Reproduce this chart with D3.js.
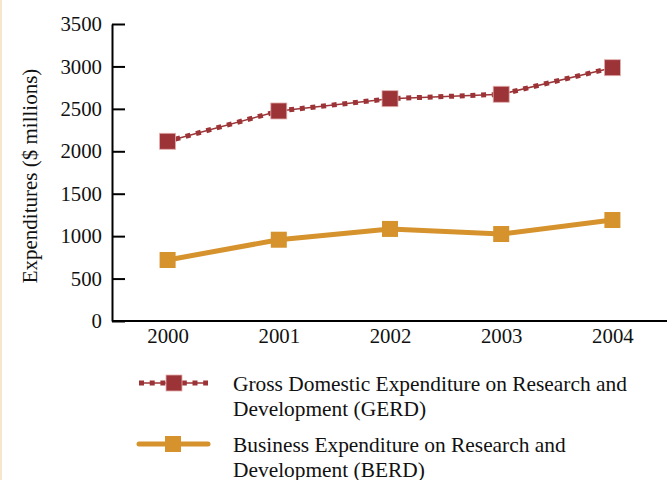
<!DOCTYPE html>
<html>
<head>
<meta charset="utf-8">
<script src="https://cdn.jsdelivr.net/npm/d3@7"></script>
<style>
  body { margin: 0; background: #fff; }
  text { font-family: "Liberation Serif", "Times New Roman", serif; fill: #111; }
</style>
</head>
<body>
<div id="chart"></div>
<script>
// data
const years = ["2000", "2001", "2002", "2003", "2004"];
const gerd = [2118, 2475, 2620, 2672, 2985];
const berd = [719, 958, 1085, 1025, 1190];
const yTicks = [0, 500, 1000, 1500, 2000, 2500, 3000, 3500];
const gerdLabel = ["Gross Domestic Expenditure on Research and", "Development (GERD)"];
const berdLabel = ["Business Expenditure on Research and", "Development (BERD)"];

const width = 667;
const height = 480;
const gerdColor = "#9c3437";
const berdColor = "#d6922c";

const svg = d3.select("#chart")
    .append("svg")
    .attr("width", width)
    .attr("height", height)
    .attr("viewBox", [0, 0, width, height]);

// thin beige edge on the left
svg.append("rect")
    .attr("x", 0).attr("y", 0)
    .attr("width", 2).attr("height", height)
    .attr("fill", "#f5e6cc");

const x = d3.scalePoint()
    .domain(years)
    .range([112, 668])
    .padding(0.5);

const y = d3.scaleLinear()
    .domain([0, 3500])
    .range([321, 24]);

// y axis
const yAxis = svg.append("g")
    .attr("transform", "translate(112,0)")
    .call(d3.axisLeft(y)
        .tickValues(yTicks)
        .tickSizeInner(-13)
        .tickSizeOuter(0)
        .tickPadding(10)
        .tickFormat(d3.format("d")));
yAxis.select(".domain").attr("stroke", "#000").attr("stroke-width", 2);
yAxis.selectAll(".tick line").attr("stroke", "#000").attr("stroke-width", 2);
yAxis.selectAll(".tick text")
    .attr("font-size", "20.8px")
    .attr("font-family", "Liberation Serif, serif")
    .attr("fill", "#111");

// x axis
const xAxis = svg.append("g")
    .attr("transform", "translate(0,321)")
    .call(d3.axisBottom(x).tickSize(0).tickPadding(7));
xAxis.select(".domain")
    .attr("d", "M112,0H667")
    .attr("stroke", "#000").attr("stroke-width", 2);
xAxis.selectAll(".tick text")
    .attr("font-size", "20.8px")
    .attr("font-family", "Liberation Serif, serif")
    .attr("fill", "#111");

// y label
svg.append("text")
    .attr("transform", "translate(37,176) rotate(-90)")
    .attr("text-anchor", "middle")
    .attr("font-size", "21px")
    .text("Expenditures ($ millions)");

const line = d3.line()
    .x((d, i) => x(years[i]))
    .y(d => y(d));

// GERD: thin line + small square dashes
svg.append("path")
    .datum(gerd)
    .attr("d", line)
    .attr("fill", "none")
    .attr("stroke", gerdColor)
    .attr("stroke-width", 1.5);
svg.append("path")
    .datum(gerd)
    .attr("d", line)
    .attr("fill", "none")
    .attr("stroke", gerdColor)
    .attr("stroke-width", 5)
    .attr("stroke-dasharray", "5,5.7")
    .attr("stroke-dashoffset", -8);

// BERD: thick solid line
svg.append("path")
    .datum(berd)
    .attr("d", line)
    .attr("fill", "none")
    .attr("stroke", berdColor)
    .attr("stroke-width", 5);

svg.selectAll(".gerdPt")
    .data(gerd)
    .enter()
    .append("rect")
    .attr("class", "gerdPt")
    .attr("x", (d, i) => x(years[i]) - 8)
    .attr("y", d => y(d) - 8)
    .attr("width", 16).attr("height", 16)
    .attr("fill", gerdColor)
    .attr("stroke", "#e3aeae")
    .attr("stroke-width", 0.8);

svg.selectAll(".berdPt")
    .data(berd)
    .enter()
    .append("rect")
    .attr("class", "berdPt")
    .attr("x", (d, i) => x(years[i]) - 8)
    .attr("y", d => y(d) - 8)
    .attr("width", 16).attr("height", 16)
    .attr("fill", berdColor);

// legend
const lg = svg.append("g");
lg.append("line")
    .attr("x1", 139).attr("x2", 208)
    .attr("y1", 383).attr("y2", 383)
    .attr("stroke", gerdColor).attr("stroke-width", 1.5);
lg.append("line")
    .attr("x1", 139).attr("x2", 208)
    .attr("y1", 383).attr("y2", 383)
    .attr("stroke", gerdColor).attr("stroke-width", 5)
    .attr("stroke-dasharray", "5,5.7");
lg.append("rect")
    .attr("x", 166).attr("y", 375)
    .attr("width", 16).attr("height", 16)
    .attr("fill", gerdColor)
    .attr("stroke", "#e3aeae").attr("stroke-width", 0.8);

lg.append("line")
    .attr("x1", 139).attr("x2", 208)
    .attr("y1", 444).attr("y2", 444)
    .attr("stroke", berdColor).attr("stroke-width", 5)
    .attr("stroke-linecap", "round");
lg.append("rect")
    .attr("x", 165).attr("y", 436)
    .attr("width", 16).attr("height", 16)
    .attr("fill", berdColor);

[[gerdLabel, 390.5], [berdLabel, 451.5]].forEach(([lines, y0]) => {
    lines.forEach((t, i) => {
        lg.append("text")
            .attr("x", 233)
            .attr("y", y0 + i * 25.5)
            .attr("font-size", "21.4px")
            .text(t);
    });
});
</script>
</body>
</html>
